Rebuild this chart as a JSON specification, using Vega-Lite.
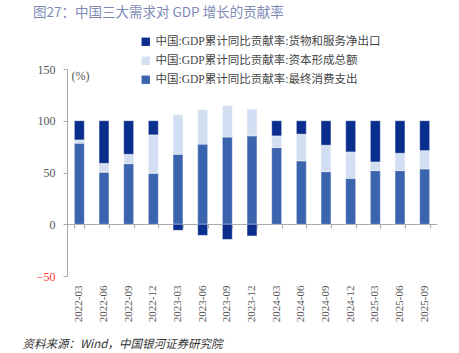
{
  "$schema": "https://vega.github.io/schema/vega-lite/v6.json",
  "autosize": "none",
  "width": 370,
  "height": 207,
  "padding": {"left": 67, "top": 69, "right": 22, "bottom": 77},
  "background": "white",
  "title": {
    "text": "图27：中国三大需求对 GDP 增长的贡献率",
    "anchor": "start",
    "frame": "group",
    "dx": -34,
    "offset": 17,
    "font": "Noto Sans CJK SC",
    "fontSize": 13.5,
    "fontWeight": "normal",
    "color": "#7d8ab5"
  },
  "config": {
    "view": {"stroke": null},
    "font": "Times New Roman"
  },
  "data": {
    "values": [
      {"date": "2022-03", "s": "中国:GDP累计同比贡献率:最终消费支出", "o": 1, "v": 78.3},
      {"date": "2022-03", "s": "中国:GDP累计同比贡献率:资本形成总额", "o": 2, "v": 3.2},
      {"date": "2022-03", "s": "中国:GDP累计同比贡献率:货物和服务净出口", "o": 3, "v": 18.5},
      {"date": "2022-06", "s": "中国:GDP累计同比贡献率:最终消费支出", "o": 1, "v": 50.2},
      {"date": "2022-06", "s": "中国:GDP累计同比贡献率:资本形成总额", "o": 2, "v": 8.7},
      {"date": "2022-06", "s": "中国:GDP累计同比贡献率:货物和服务净出口", "o": 3, "v": 41.1},
      {"date": "2022-09", "s": "中国:GDP累计同比贡献率:最终消费支出", "o": 1, "v": 58.5},
      {"date": "2022-09", "s": "中国:GDP累计同比贡献率:资本形成总额", "o": 2, "v": 9.1},
      {"date": "2022-09", "s": "中国:GDP累计同比贡献率:货物和服务净出口", "o": 3, "v": 32.4},
      {"date": "2022-12", "s": "中国:GDP累计同比贡献率:最终消费支出", "o": 1, "v": 49.2},
      {"date": "2022-12", "s": "中国:GDP累计同比贡献率:资本形成总额", "o": 2, "v": 37.2},
      {"date": "2022-12", "s": "中国:GDP累计同比贡献率:货物和服务净出口", "o": 3, "v": 13.6},
      {"date": "2023-03", "s": "中国:GDP累计同比贡献率:最终消费支出", "o": 1, "v": 67.6},
      {"date": "2023-03", "s": "中国:GDP累计同比贡献率:资本形成总额", "o": 2, "v": 38.2},
      {"date": "2023-03", "s": "中国:GDP累计同比贡献率:货物和服务净出口", "o": 3, "v": -5.8},
      {"date": "2023-06", "s": "中国:GDP累计同比贡献率:最终消费支出", "o": 1, "v": 77.4},
      {"date": "2023-06", "s": "中国:GDP累计同比贡献率:资本形成总额", "o": 2, "v": 33.3},
      {"date": "2023-06", "s": "中国:GDP累计同比贡献率:货物和服务净出口", "o": 3, "v": -10.7},
      {"date": "2023-09", "s": "中国:GDP累计同比贡献率:最终消费支出", "o": 1, "v": 84.2},
      {"date": "2023-09", "s": "中国:GDP累计同比贡献率:资本形成总额", "o": 2, "v": 30.4},
      {"date": "2023-09", "s": "中国:GDP累计同比贡献率:货物和服务净出口", "o": 3, "v": -14.6},
      {"date": "2023-12", "s": "中国:GDP累计同比贡献率:最终消费支出", "o": 1, "v": 85.4},
      {"date": "2023-12", "s": "中国:GDP累计同比贡献率:资本形成总额", "o": 2, "v": 25.9},
      {"date": "2023-12", "s": "中国:GDP累计同比贡献率:货物和服务净出口", "o": 3, "v": -11.3},
      {"date": "2024-03", "s": "中国:GDP累计同比贡献率:最终消费支出", "o": 1, "v": 74.1},
      {"date": "2024-03", "s": "中国:GDP累计同比贡献率:资本形成总额", "o": 2, "v": 11.3},
      {"date": "2024-03", "s": "中国:GDP累计同比贡献率:货物和服务净出口", "o": 3, "v": 14.6},
      {"date": "2024-06", "s": "中国:GDP累计同比贡献率:最终消费支出", "o": 1, "v": 61.2},
      {"date": "2024-06", "s": "中国:GDP累计同比贡献率:资本形成总额", "o": 2, "v": 25.9},
      {"date": "2024-06", "s": "中国:GDP累计同比贡献率:货物和服务净出口", "o": 3, "v": 12.9},
      {"date": "2024-09", "s": "中国:GDP累计同比贡献率:最终消费支出", "o": 1, "v": 50.8},
      {"date": "2024-09", "s": "中国:GDP累计同比贡献率:资本形成总额", "o": 2, "v": 25.6},
      {"date": "2024-09", "s": "中国:GDP累计同比贡献率:货物和服务净出口", "o": 3, "v": 23.6},
      {"date": "2024-12", "s": "中国:GDP累计同比贡献率:最终消费支出", "o": 1, "v": 44.3},
      {"date": "2024-12", "s": "中国:GDP累计同比贡献率:资本形成总额", "o": 2, "v": 25.6},
      {"date": "2024-12", "s": "中国:GDP累计同比贡献率:货物和服务净出口", "o": 3, "v": 30.1},
      {"date": "2025-03", "s": "中国:GDP累计同比贡献率:最终消费支出", "o": 1, "v": 51.8},
      {"date": "2025-03", "s": "中国:GDP累计同比贡献率:资本形成总额", "o": 2, "v": 8.4},
      {"date": "2025-03", "s": "中国:GDP累计同比贡献率:货物和服务净出口", "o": 3, "v": 39.8},
      {"date": "2025-06", "s": "中国:GDP累计同比贡献率:最终消费支出", "o": 1, "v": 51.8},
      {"date": "2025-06", "s": "中国:GDP累计同比贡献率:资本形成总额", "o": 2, "v": 16.8},
      {"date": "2025-06", "s": "中国:GDP累计同比贡献率:货物和服务净出口", "o": 3, "v": 31.4},
      {"date": "2025-09", "s": "中国:GDP累计同比贡献率:最终消费支出", "o": 1, "v": 53.4},
      {"date": "2025-09", "s": "中国:GDP累计同比贡献率:资本形成总额", "o": 2, "v": 17.8},
      {"date": "2025-09", "s": "中国:GDP累计同比贡献率:货物和服务净出口", "o": 3, "v": 28.8}
    ]
  },
  "layer": [
    {
      "mark": {"type": "bar", "stroke": "#ffffff", "strokeWidth": 0.6, "strokeOpacity": 0.6},
      "encoding": {
        "x": {
          "field": "date",
          "type": "ordinal",
          "scale": {"paddingInner": 0.6, "paddingOuter": 0.3},
          "axis": {
            "orient": "bottom",
            "domain": false,
            "ticks": false,
            "labelAngle": -90,
            "labelPadding": 9,
            "labelFont": "Times New Roman",
            "labelFontSize": 11,
            "labelColor": "#555555",
            "title": "资料来源：Wind，中国银河证券研究院",
            "titleFont": "Noto Sans CJK SC",
            "titleFontStyle": "italic",
            "titleFontWeight": "normal",
            "titleFontSize": 11.5,
            "titleColor": "#333333",
            "titleAnchor": "start",
            "titleAlign": "left",
            "titleBaseline": "alphabetic",
            "titleX": -45,
            "titleY": 71
          }
        },
        "y": {
          "field": "v",
          "type": "quantitative",
          "stack": "zero",
          "scale": {"domain": [-50, 150], "nice": false},
          "axis": {
            "values": [-50, 0, 50, 100, 150],
            "grid": false,
            "domainColor": "#aaaaaa",
            "tickColor": "#aaaaaa",
            "tickSize": 4,
            "labelPadding": 8,
            "labelFont": "Times New Roman",
            "labelFontSize": 12,
            "labelColor": {"condition": {"test": "datum.value < 0", "value": "#ff3333"}, "value": "#555555"},
            "title": "(%)",
            "titleAngle": 0,
            "titleX": 4,
            "titleY": 6,
            "titleAlign": "left",
            "titleBaseline": "middle",
            "titleFont": "Times New Roman",
            "titleFontWeight": "normal",
            "titleFontSize": 12,
            "titleColor": "#555555"
          }
        },
        "color": {
          "field": "s",
          "type": "nominal",
          "scale": {
            "domain": ["中国:GDP累计同比贡献率:货物和服务净出口", "中国:GDP累计同比贡献率:资本形成总额", "中国:GDP累计同比贡献率:最终消费支出"],
            "range": ["#0a2e8e", "#d2def1", "#3a64ae"]
          },
          "legend": {
            "title": null,
            "orient": "none",
            "legendX": 73,
            "legendY": -33,
            "symbolType": "square",
            "symbolSize": 70,
            "symbolStrokeWidth": 0,
            "labelFont": "Times New Roman, Noto Sans CJK SC",
            "labelFontSize": 11.5,
            "labelLimit": 0,
            "labelColor": "#444444",
            "rowPadding": 6,
            "labelOffset": 4
          }
        },
        "order": {"field": "o", "type": "quantitative"}
      }
    },
    {
      "mark": {"type": "rule", "opacity": 0},
      "encoding": {
        "x": {
          "field": "date",
          "type": "ordinal",
          "axis": {
            "orient": "bottom",
            "offset": -52,
            "labels": false,
            "title": null,
            "domain": true,
            "domainColor": "#aaaaaa",
            "ticks": true,
            "tickColor": "#aaaaaa",
            "tickSize": 4,
            "tickBand": "extent"
          }
        },
        "y": {"datum": 0, "type": "quantitative"}
      }
    }
  ],
  "resolve": {"axis": {"x": "independent"}}
}
